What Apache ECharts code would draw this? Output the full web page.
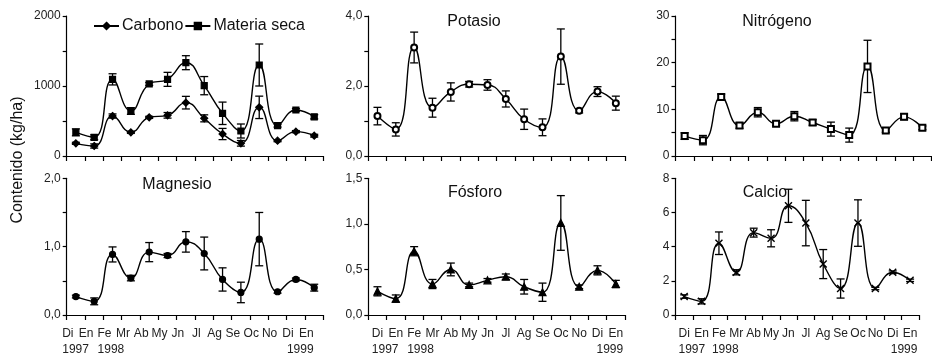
<!DOCTYPE html>
<html><head><meta charset="utf-8">
<script src="https://cdn.jsdelivr.net/npm/echarts@6/dist/echarts.min.js"></script>
<style>html,body{margin:0;padding:0;background:#fff}#c{width:932px;height:356px}</style>
</head><body><div id="c"></div>
<script>
// ---- data ----
const months = ['Di','En','Fe','Mr','Ab','My','Jn','Jl','Ag','Se','Oc','No','Di','En'];
const years  = ['1997','','1998','','','','','','','','','','','1999'];

const carbono     = [181,143,571,338,552,581,762,538,314,181,695,219,348,290];
const carbonoErr  = [15,30,30,15,15,40,90,50,80,40,160,15,15,20];
const materia     = [338,267,1095,643,1029,1095,1333,1005,610,357,1300,433,657,560];
const materiaErr  = [50,35,80,48,20,100,100,130,160,100,300,20,20,30];

const potasio     = [1.14,0.76,3.10,1.38,1.83,2.05,2.03,1.63,1.05,0.82,2.84,1.29,1.84,1.51];
const potasioErr  = [0.25,0.19,0.44,0.27,0.26,0.08,0.15,0.23,0.29,0.24,0.79,0.06,0.14,0.20];

const nitrogeno    = [4.26,3.4,12.65,6.54,9.38,6.9,8.53,7.18,5.76,4.48,19.2,5.47,8.39,6.04];
const nitrogenoErr = [0.7,1.0,0.6,0.6,1.0,0.4,1.0,0.6,1.5,1.5,5.6,0.4,0.6,0.4];

const magnesio    = [0.27,0.20,0.886,0.54,0.92,0.87,1.07,0.90,0.52,0.33,1.11,0.34,0.52,0.40];
const magnesioErr = [0.02,0.05,0.11,0.04,0.14,0.03,0.15,0.24,0.17,0.15,0.39,0.02,0.02,0.05];

const fosforo     = [0.26,0.18,0.70,0.34,0.50,0.33,0.38,0.42,0.31,0.25,1.01,0.31,0.49,0.34];
const fosforoErr  = [0.05,0.04,0.05,0.05,0.07,0.02,0.02,0.03,0.08,0.10,0.30,0.02,0.05,0.04];

const calcio      = [1.08,0.80,4.20,2.50,4.82,4.49,6.39,5.38,2.98,1.55,5.38,1.55,2.50,2.03];
const calcioErr   = [0.10,0.15,0.66,0.15,0.26,0.50,0.97,1.33,0.85,0.56,1.36,0.07,0.08,0.07];

const panelTitles = ['', 'Potasio', 'Nitrógeno', 'Magnesio', 'Fósforo', 'Calcio'];
const yTitle = 'Contenido (kg/ha)';

// ---- layout ----
const FONT = 'Liberation Sans, Arial, Helvetica, sans-serif';
const grids = [
  {left:66.7, top:16, width:256.7, height:140},
  {left:368.3, top:16, width:256.7, height:140},
  {left:675.5, top:16, width:256, height:140},
  {left:66.7, top:178.3, width:256.7, height:140.7},
  {left:368.3, top:178.3, width:256.7, height:140.7},
  {left:675.5, top:178.3, width:256, height:140.7}
];
const yCfg = [
  {max:2000, interval:500, show:[0,1000,2000], dec:0},
  {max:4, interval:1, show:[0,2,4], dec:1},
  {max:30, interval:5, show:[0,10,20,30], dec:0},
  {max:2, interval:0.5, show:[0,1,2], dec:1},
  {max:1.5, interval:0.5, show:[0,0.5,1,1.5], dec:1},
  {max:8, interval:2, show:[0,2,4,6,8], dec:0}
];
const labelShift = [0,0,0,8,0,0];

const mctx = document.createElement('canvas').getContext('2d');
mctx.font = '12px ' + FONT;
const tw = s => mctx.measureText(s).width;

function xLabelCfg(gi){
  const row2 = gi >= 3;
  const d = labelShift[gi];
  const rich = {m:{fontSize:12, fontFamily:FONT, color:'#222', lineHeight:16, align:'center', padding:[0, 2*d, 0, 0]}};
  years.forEach((y, i) => {
    if (!y) return;
    const mw = tw(months[i]), yw = tw(y);
    const t = (i === years.length - 1) ? (-d + mw/2 - yw/2) : (-d - mw/2 + yw/2);
    rich['y'+i] = {fontSize:12, fontFamily:FONT, color:'#222', lineHeight:16, align:'center',
      padding: t > 0 ? [0,0,0,2*t] : [0,-2*t,0,0]};
  });
  return {
    show: row2, interval: 0, margin: 11,
    formatter: (v, i) => '{m|' + v + '}' + (years[i] ? '\n{y' + i + '|' + years[i] + '}' : ''),
    rich
  };
}

const xAxes = grids.map((g, gi) => ({
  type:'category', gridIndex:gi, data:months, boundaryGap:true,
  axisLine:{lineStyle:{color:'#000', width:1.2}},
  axisTick:{show:true, inside:false, length:5, interval:0, lineStyle:{color:'#000', width:1.2}},
  axisLabel: xLabelCfg(gi),
  splitLine:{show:false}
}));

const yAxes = yCfg.map((c, gi) => ({
  type:'value', gridIndex:gi, min:0, max:c.max, interval:c.interval,
  axisLine:{show:true, lineStyle:{color:'#000', width:1.2}},
  axisTick:{show:true, inside:false, length:4, lineStyle:{color:'#000', width:1.2}},
  splitLine:{show:false},
  axisLabel:{margin:6, fontSize:12, fontFamily:FONT, color:'#222',
    formatter: v => c.show.some(s => Math.abs(s - v) < 1e-9) ? v.toFixed(c.dec).replace('.', ',') : ''}
}));

function errRender(params, api){
  const x = api.value(0), lo = api.value(1), hi = api.value(2);
  const p1 = api.coord([x, lo]), p2 = api.coord([x, hi]);
  const w = 4, st = {stroke:'#000', lineWidth:1.3};
  return {type:'group', children:[
    {type:'line', shape:{x1:p1[0], y1:p1[1], x2:p2[0], y2:p2[1]}, style:st},
    {type:'line', shape:{x1:p1[0]-w, y1:p1[1], x2:p1[0]+w, y2:p1[1]}, style:st},
    {type:'line', shape:{x1:p2[0]-w, y1:p2[1], x2:p2[0]+w, y2:p2[1]}, style:st}
  ]};
}

const xPath = 'path://M0,0L10,10M10,0L0,10';
const seriesDefs = [
  {name:'Carbono', gi:0, v:carbono, e:carbonoErr, symbol:'diamond', size:7},
  {name:'Materia seca', gi:0, v:materia, e:materiaErr, symbol:'rect', size:6},
  {name:'Potasio', gi:1, v:potasio, e:potasioErr, symbol:'emptyCircle', size:6},
  {name:'Nitrógeno', gi:2, v:nitrogeno, e:nitrogenoErr, symbol:'emptyRect', size:6},
  {name:'Magnesio', gi:3, v:magnesio, e:magnesioErr, symbol:'circle', size:6},
  {name:'Fósforo', gi:4, v:fosforo, e:fosforoErr, symbol:'triangle', size:7},
  {name:'Calcio', gi:5, v:calcio, e:calcioErr, symbol:xPath, size:7}
];

const series = [];
seriesDefs.forEach(s => {
  series.push({
    type:'line', name:s.name, xAxisIndex:s.gi, yAxisIndex:s.gi, data:s.v,
    smooth:0.5, symbol:s.symbol, symbolSize:s.size, showSymbol:true,
    lineStyle:{color:'#000', width:1.4},
    itemStyle:{color:'#000', borderColor:'#000', borderWidth: s.symbol===xPath ? 1.4 : 1.2},
    z:3, animation:false
  });
  series.push({
    type:'custom', name:s.name + ' err', xAxisIndex:s.gi, yAxisIndex:s.gi,
    renderItem: errRender, encode:{x:0, y:[1,2]},
    data: s.v.map((v, i) => [i, v - s.e[i], v + s.e[i]]),
    z:2, animation:false, silent:true
  });
});

const titlePos = [null, [474,22], [777,22], [177,185], [475,193], [765,193]];
const graphics = [];
panelTitles.forEach((t, i) => {
  if (!t) return;
  graphics.push({type:'text', x:titlePos[i][0], y:titlePos[i][1],
    style:{text:t, fontSize:16, fontFamily:FONT, fill:'#111', align:'center', verticalAlign:'middle'}});
});
graphics.push({type:'text', x:18, y:160, rotation:Math.PI/2,
  style:{text:yTitle, fontSize:16, fontFamily:FONT, fill:'#111', align:'center', verticalAlign:'middle'}});

const chart = echarts.init(document.getElementById('c'));
chart.setOption({
  backgroundColor:'#fff',
  animation:false,
  grid: grids.map(g => Object.assign({containLabel:false}, g)),
  xAxis: xAxes,
  yAxis: yAxes,
  legend:{data:['Carbono','Materia seca'], left:88, top:13, itemWidth:25, itemHeight:8, itemGap:1,
    textStyle:{fontSize:16, fontFamily:FONT, color:'#111', padding:[0,0,0,-2]}},
  graphic: graphics,
  series
});
</script>
</body></html>
